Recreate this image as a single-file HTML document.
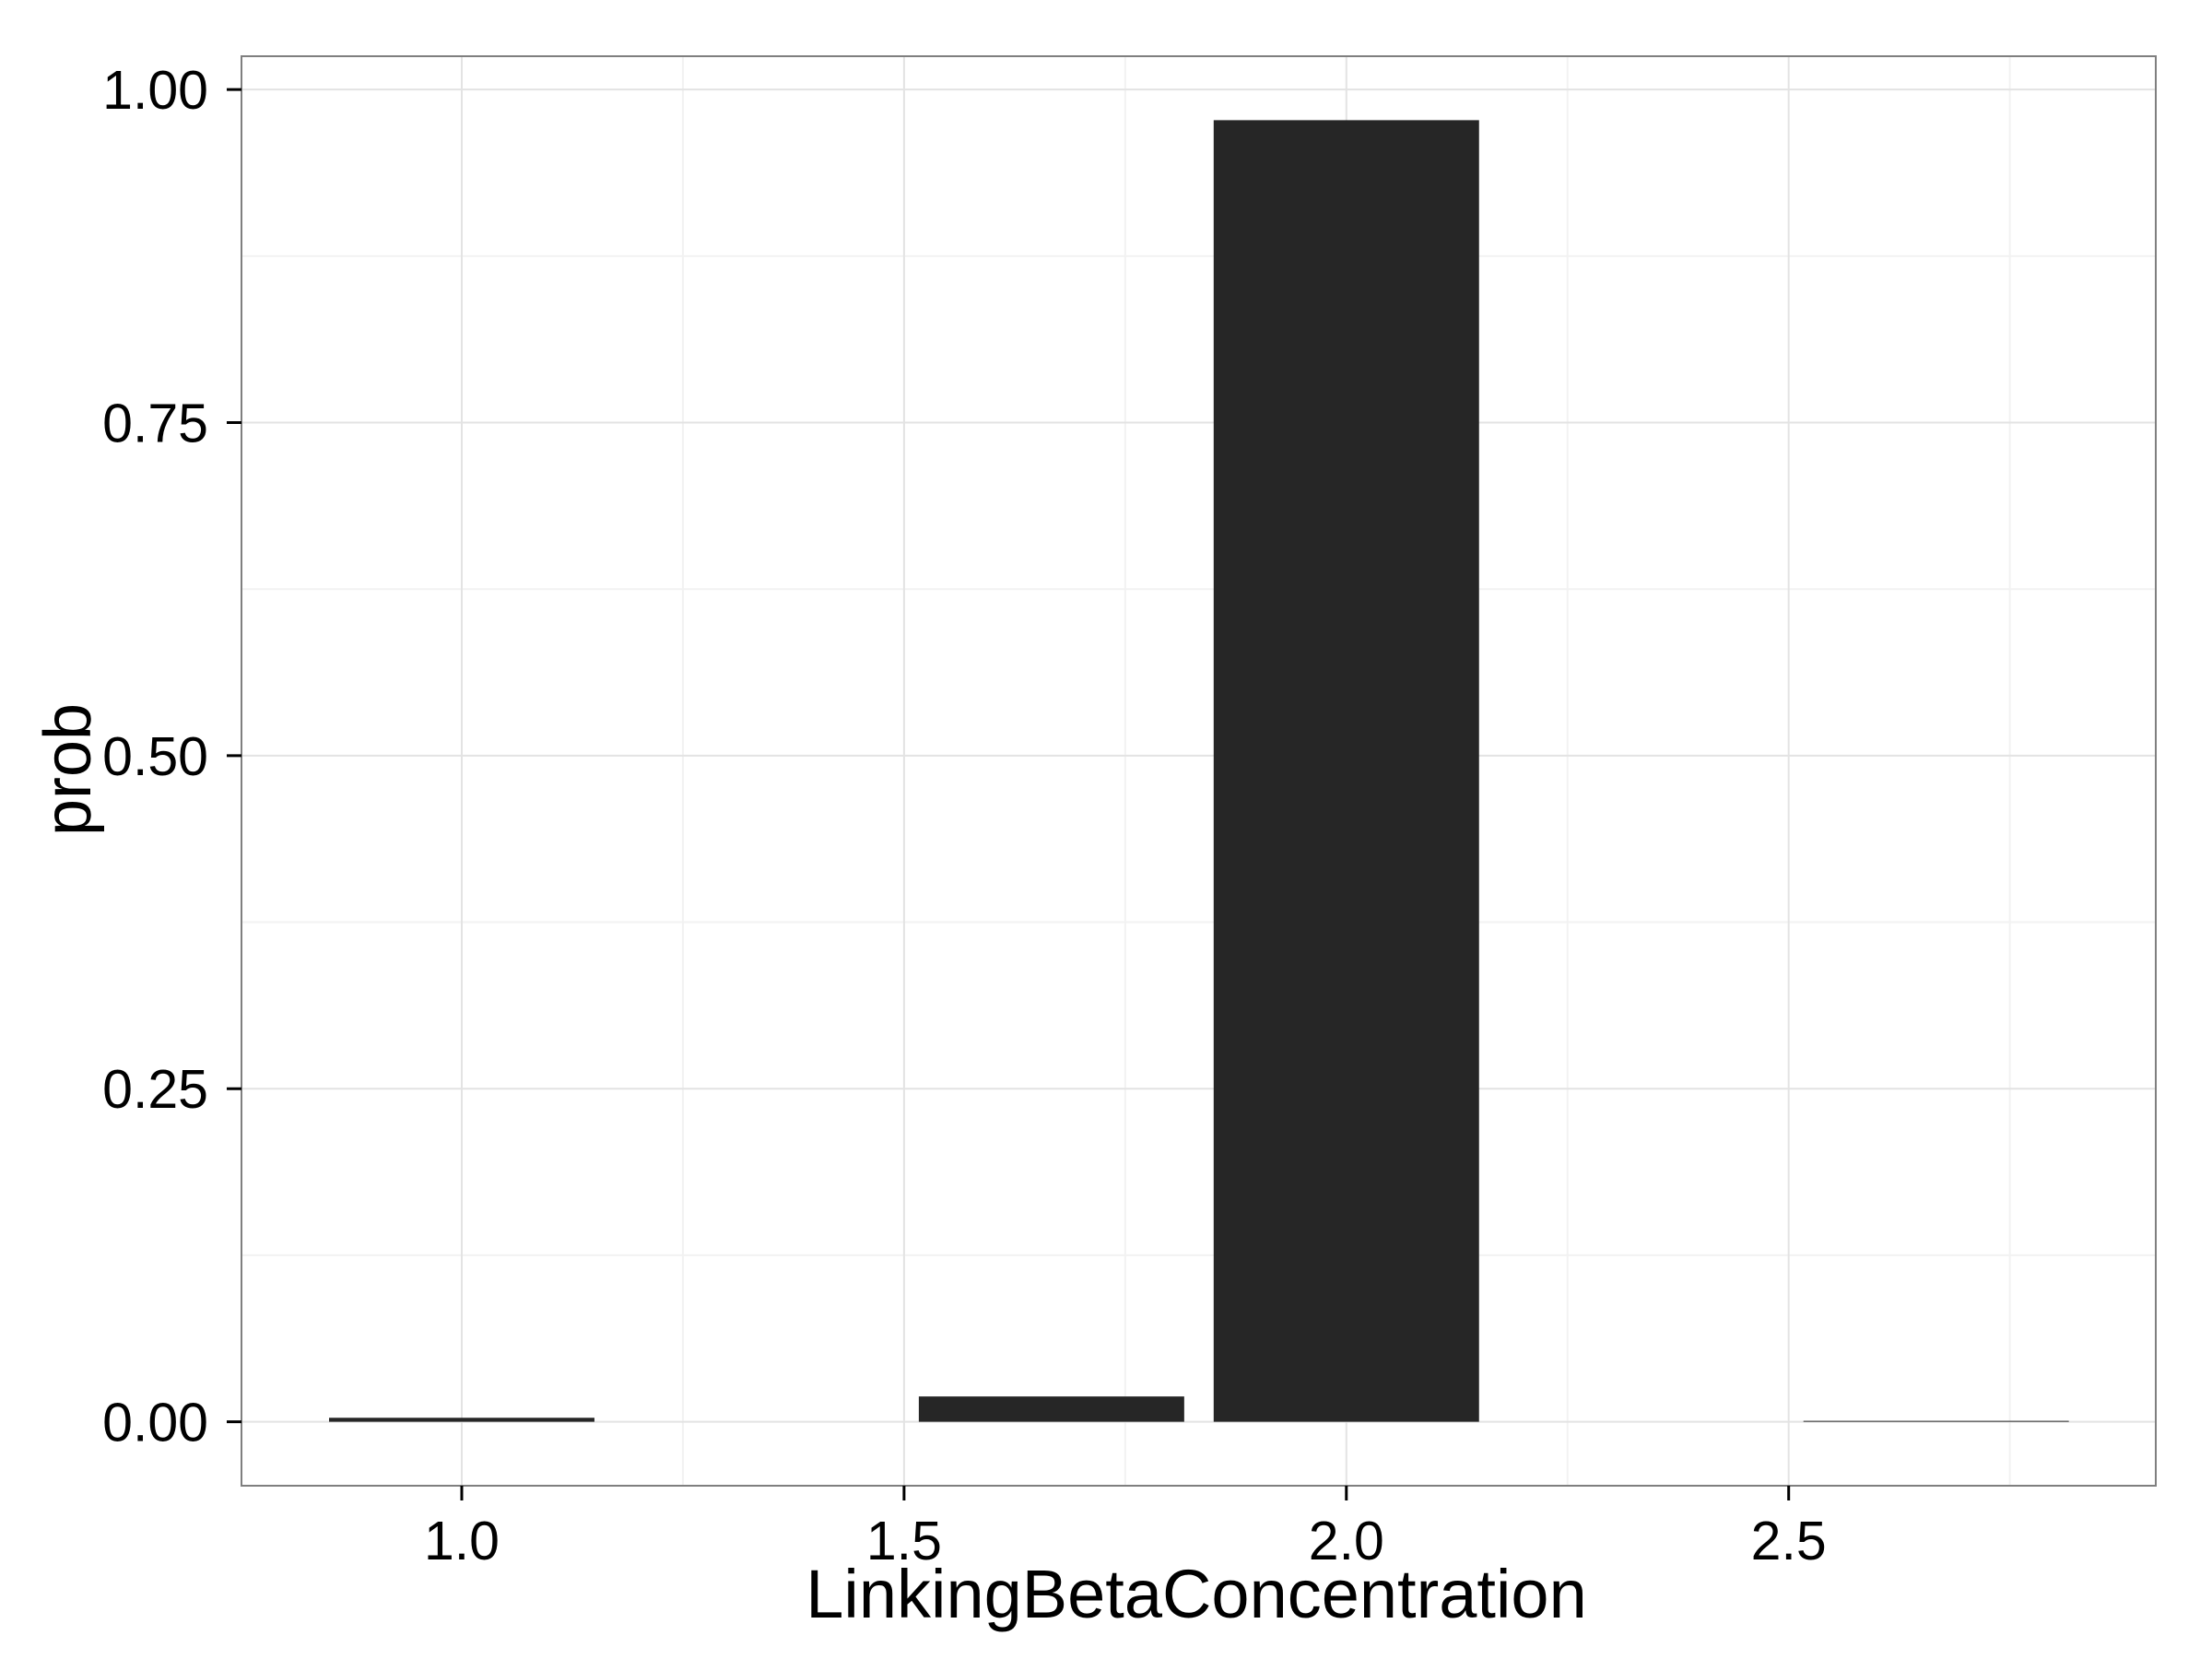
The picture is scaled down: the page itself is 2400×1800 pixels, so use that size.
<!DOCTYPE html>
<html><head><meta charset="utf-8"><style>
html,body{margin:0;padding:0;background:#fff;}
svg{display:block;font-family:"Liberation Sans",Arial,sans-serif;}
</style></head><body>
<svg id="chart" width="2400" height="1800" viewBox="0 0 2400 1800" xmlns="http://www.w3.org/2000/svg">
<rect x="0" y="0" width="2400" height="1800" fill="#fff"/>
<g id="grid"></g>
<g id="bars"></g>
<rect x="262" y="61" width="2077" height="1551" fill="none" stroke="#7f7f7f" stroke-width="2"/>
<g id="axes"></g>
<text x="1298" y="1755" font-size="74" text-anchor="middle" fill="#000">LinkingBetaConcentration</text>
<text x="0" y="0" font-size="72" text-anchor="middle" fill="#000" transform="translate(98,835) rotate(-90)">prob</text>
</svg>
<script>
const categories = [1.0, 1.6667, 2.0, 2.6667];
const probValues = [0.003, 0.019, 0.977, 0.0005];
const barWidth = 0.3;
const xTicks = [1.0, 1.5, 2.0, 2.5];
const xTickLabels = ["1.0", "1.5", "2.0", "2.5"];
const yTicks = [0, 0.25, 0.5, 0.75, 1.0];
const yTickLabels = ["0.00", "0.25", "0.50", "0.75", "1.00"];

const PL=262, PR=2339, PT=61, PB=1612;
const xMin=0.751, xMax=2.915, yMin=-0.048, yMax=1.025;
const xs = v => PL + (v - xMin) / (xMax - xMin) * (PR - PL);
const ys = v => PB - (v - yMin) / (yMax - yMin) * (PB - PT);
const NS = "http://www.w3.org/2000/svg";
function mk(tag, attrs, parent){const e=document.createElementNS(NS,tag);for(const k in attrs)e.setAttribute(k,attrs[k]);parent.appendChild(e);return e;}

const grid=document.getElementById('grid');
const bars=document.getElementById('bars');
const axes=document.getElementById('axes');

for(let i=0;i<yTicks.length-1;i++){
  const v=(yTicks[i]+yTicks[i+1])/2;
  const l=mk('line',{x1:PL,x2:PR,y1:ys(v),y2:ys(v),stroke:'#f2f2f2','stroke-width':2},grid);
  
  
}
const xMinor=[xTicks[0]-0.25].concat(xTicks.map(t=>t+0.25));
xMinor.forEach(v=>{
  if(v<xMin||v>xMax)return;
  const l=mk('line',{x1:xs(v),x2:xs(v),y1:PT,y2:PB,stroke:'#f2f2f2','stroke-width':2},grid);
  
  
});
yTicks.forEach((v,i)=>{
  const l=mk('line',{x1:PL,x2:PR,y1:ys(v),y2:ys(v),stroke:'#e3e3e3','stroke-width':2},grid);
  
  
  const t=mk('line',{x1:PL-16,x2:PL,y1:ys(v),y2:ys(v),stroke:'#000','stroke-width':3},axes);
  
  
  const tx=mk('text',{x:PL-36,y:ys(v)+21,'font-size':59,'text-anchor':'end',fill:'#000'},axes);
  tx.textContent=yTickLabels[i];
  
  
});
xTicks.forEach((v,i)=>{
  const l=mk('line',{x1:xs(v),x2:xs(v),y1:PT,y2:PB,stroke:'#e3e3e3','stroke-width':2},grid);
  
  
  const t=mk('line',{x1:xs(v),x2:xs(v),y1:PB,y2:PB+16,stroke:'#000','stroke-width':3},axes);
  
  
  const tx=mk('text',{x:xs(v),y:PB+80,'font-size':59,'text-anchor':'middle',fill:'#000'},axes);
  tx.textContent=xTickLabels[i];
  
  
});
categories.forEach((c,i)=>{
  const x0=xs(c-barWidth/2), x1=xs(c+barWidth/2);
  const y0=ys(0), y1=ys(probValues[i]);
  const h=Math.max(y0-y1,1);
  const r=mk('rect',{x:x0,y:y0-h,width:x1-x0,height:h,fill:'#262626'},bars);
  
  
});
</script>
</body></html>
